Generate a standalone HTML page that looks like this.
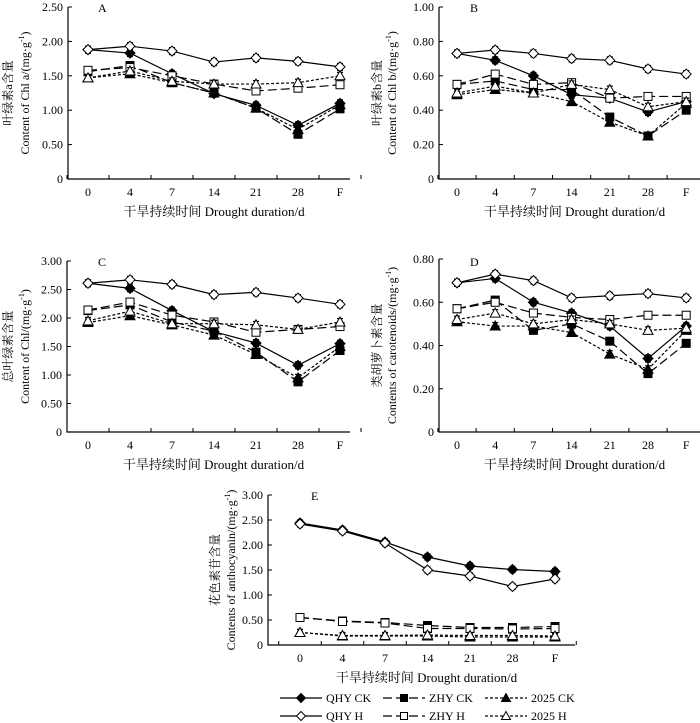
<!DOCTYPE html>
<html><head><meta charset="utf-8">
<style>
html,body{margin:0;padding:0;background:#fff;}
svg{display:block;font-family:"Liberation Serif","Noto Serif CJK SC",serif;}
</style></head>
<body>
<svg id="chart" width="700" height="723" viewBox="0 0 700 723" xmlns="http://www.w3.org/2000/svg"></svg>
<script>
const categories = ["0","4","7","14","21","28","F"];
const seriesNames = ["QHY CK","ZHY CK","2025 CK","QHY H","ZHY H","2025 H"];
// Panel A
const aQhyCk = [1.88,1.83,1.53,1.24,1.07,0.78,1.10];
const aZhyCk = [1.56,1.65,1.40,1.25,1.03,0.65,1.02];
const a2025Ck = [1.47,1.53,1.40,1.25,1.03,0.72,1.08];
const aQhyH = [1.88,1.93,1.86,1.70,1.76,1.71,1.63];
const aZhyH = [1.58,1.62,1.50,1.38,1.28,1.32,1.37];
const a2025H = [1.47,1.57,1.42,1.38,1.38,1.40,1.50];
const aTicks = ["0","0.50","1.00","1.50","2.00","2.50"];
// Panel B
const bQhyCk = [0.73,0.69,0.60,0.49,0.47,0.39,0.45];
const bZhyCk = [0.55,0.57,0.52,0.52,0.36,0.25,0.40];
const b2025Ck = [0.49,0.52,0.50,0.45,0.33,0.25,0.44];
const bQhyH = [0.73,0.75,0.73,0.70,0.69,0.64,0.61];
const bZhyH = [0.55,0.61,0.55,0.56,0.47,0.48,0.48];
const b2025H = [0.50,0.54,0.50,0.55,0.52,0.42,0.45];
const bTicks = ["0","0.20","0.40","0.60","0.80","1.00"];
// Panel C
const cQhyCk = [2.61,2.52,2.13,1.76,1.56,1.17,1.55];
const cZhyCk = [2.13,2.23,1.93,1.77,1.40,0.88,1.43];
const c2025Ck = [1.92,2.04,1.88,1.70,1.36,0.95,1.50];
const cQhyH = [2.61,2.67,2.59,2.41,2.45,2.35,2.24];
const cZhyH = [2.14,2.28,2.05,1.93,1.75,1.80,1.85];
const c2025H = [1.95,2.12,1.90,1.90,1.88,1.80,1.93];
const cTicks = ["0","0.50","1.00","1.50","2.00","2.50","3.00"];
// Panel D
const dQhyCk = [0.69,0.71,0.60,0.55,0.49,0.34,0.49];
const dZhyCk = [0.57,0.61,0.47,0.50,0.42,0.27,0.41];
const d2025Ck = [0.51,0.49,0.49,0.46,0.36,0.29,0.47];
const dQhyH = [0.69,0.73,0.70,0.62,0.63,0.64,0.62];
const dZhyH = [0.57,0.60,0.55,0.53,0.52,0.54,0.54];
const d2025H = [0.52,0.55,0.50,0.52,0.50,0.47,0.48];
const dTicks = ["0","0.20","0.40","0.60","0.80"];
// Panel E
const eQhyCk = [2.44,2.30,2.06,1.76,1.58,1.51,1.47];
const eZhyCk = [0.55,0.48,0.45,0.39,0.35,0.35,0.37];
const e2025Ck = [0.25,0.18,0.18,0.18,0.16,0.16,0.16];
const eQhyH = [2.42,2.28,2.04,1.50,1.38,1.17,1.32];
const eZhyH = [0.55,0.47,0.44,0.33,0.33,0.32,0.33];
const e2025H = [0.25,0.19,0.19,0.20,0.19,0.19,0.18];
const eTicks = ["0","0.50","1.00","1.50","2.00","2.50","3.00"];

const NS = "http://www.w3.org/2000/svg";
const svg = document.getElementById("chart");
function mk(tag, attrs, parent){const e=document.createElementNS(NS,tag);for(const k in attrs)e.setAttribute(k,attrs[k]);(parent||svg).appendChild(e);return e;}

const styles = [
 {dash:"", fill:"#000", shape:"diamond"},
 {dash:"9,4", fill:"#000", shape:"square"},
 {dash:"3,2", fill:"#000", shape:"triangle"},
 {dash:"", fill:"#fff", shape:"diamond"},
 {dash:"9,4", fill:"#fff", shape:"square"},
 {dash:"3,2", fill:"#fff", shape:"triangle"}
];

function marker(g, shape, x, y, fill, s){
  let el;
  if(shape==="diamond") el=mk("polygon",{points:`${x},${y-s} ${x+s},${y} ${x},${y+s} ${x-s},${y}`,fill:fill,stroke:"#000","stroke-width":1},g);
  else if(shape==="square") el=mk("rect",{x:x-s+1,y:y-s+1,width:2*s-2,height:2*s-2,fill:fill,stroke:"#000","stroke-width":1},g);
  else el=mk("polygon",{points:`${x},${y-s} ${x+s},${y+s-1} ${x-s},${y+s-1}`,fill:fill,stroke:"#000","stroke-width":1},g);
  return el;
}

function panel(p){
  const g = mk("g",{});
  
  
  const yMax = parseFloat(p.ticks[p.ticks.length-1]);
  const yScale = v => p.y0 - v/yMax*(p.y0-p.yTop);
  const xScale = i => p.x0c + i*p.dx;
  // axes
  const ax = mk("path",{d:`M${p.ax},${p.yTop} V${p.y0} H${p.axEnd}`,fill:"none",stroke:"#000","stroke-width":1.2},g);
  
  
  p.ticks.forEach((t,i)=>{
    const v=parseFloat(t), y=yScale(v);
    mk("line",{x1:p.ax,x2:p.ax+4,y1:y,y2:y,stroke:"#000"},g);
    const tx=mk("text",{x:p.ax-5,y:y+4,"text-anchor":"end","font-size":12},g);
    tx.textContent=t;
    
    
  });
  categories.forEach((c,i)=>{
    const x=xScale(i);
    mk("line",{x1:x-p.dx/2,x2:x-p.dx/2,y1:p.y0,y2:p.y0-4,stroke:"#000"},g);
    const tx=mk("text",{x:x,y:p.y0+17,"text-anchor":"middle","font-size":12},g);
    tx.textContent=c;
    
    
  });
  mk("line",{x1:xScale(6)+p.dx/2,x2:xScale(6)+p.dx/2,y1:p.y0,y2:p.y0-4,stroke:"#000"},g);
  const xt=mk("text",{x:(p.ax+p.axEnd)/2+5,y:p.y0+37,"text-anchor":"middle","font-size":13},g);
  xt.textContent="干旱持续时间  Drought duration/d";
  
  
  const cy=(p.yTop+p.y0)/2;
  const yt1=mk("text",{x:0,y:0,"text-anchor":"middle","font-size":12,transform:`translate(${p.ylx1},${cy}) rotate(-90)`},g);
  yt1.textContent=p.yl1;
  
  
  const yt2=mk("text",{x:0,y:0,"text-anchor":"middle","font-size":12,transform:`translate(${p.ylx2},${cy}) rotate(-90)`},g);
  yt2.innerHTML=p.yl2+"/(mg·g<tspan font-size='8' dy='-5'>-1</tspan><tspan dy='5'>)</tspan>";
  
  
  const lt=mk("text",{x:p.lx,y:p.ly,"font-size":12},g);
  lt.textContent=p.letter;
  
  
  const err = yMax*0.02;
  p.series.forEach((vals,si)=>{
    const st=styles[si];
    const sg=mk("g",{},g);
    
    
    const d=vals.map((v,i)=>(i?"L":"M")+xScale(i)+","+yScale(v)).join(" ");
    const pl=mk("path",{d:d,fill:"none",stroke:"#000","stroke-width":1.2,"stroke-dasharray":st.dash},sg);
    
    
    vals.forEach((v,i)=>{
      const x=xScale(i), y1=yScale(v+err), y2=yScale(v-err);
      mk("path",{d:`M${x},${y1} V${y2} M${x-3},${y1} H${x+3} M${x-3},${y2} H${x+3}`,stroke:"#000","stroke-width":1.2,fill:"none"},sg);
      const m=marker(sg,st.shape,x,yScale(v),st.fill,5);
      
      
    });
  });
}

panel({name:"panel-a-chl-a",ticks:aTicks,ax:68,axEnd:350,yTop:7,y0:179,x0c:88,dx:42,ylx1:12,ylx2:29,yl1:"叶绿素a含量",yl2:"Content of Chl a",letter:"A",lx:98,ly:12,
  series:[aQhyCk,aZhyCk,a2025Ck,aQhyH,aZhyH,a2025H]});
panel({name:"panel-b-chl-b",ticks:bTicks,ax:439,axEnd:700,yTop:7,y0:179,x0c:457,dx:38.2,ylx1:381,ylx2:396,yl1:"叶绿素b含量",yl2:"Content of Chl b",letter:"B",lx:470,ly:12,
  series:[bQhyCk,bZhyCk,b2025Ck,bQhyH,bZhyH,b2025H]});
panel({name:"panel-c-total-chl",ticks:cTicks,ax:67,axEnd:350,yTop:261,y0:432,x0c:88,dx:42,ylx1:12,ylx2:29,yl1:"总叶绿素含量",yl2:"Content of Chl",letter:"C",lx:98,ly:266,
  series:[cQhyCk,cZhyCk,c2025Ck,cQhyH,cZhyH,c2025H]});
panel({name:"panel-d-carotenoids",ticks:dTicks,ax:439,axEnd:700,yTop:259,y0:432,x0c:457,dx:38.2,ylx1:381,ylx2:396,yl1:"类胡萝卜素含量",yl2:"Contents of carotenoids",letter:"D",lx:470,ly:266,
  series:[dQhyCk,dZhyCk,d2025Ck,dQhyH,dZhyH,d2025H]});
panel({name:"panel-e-anthocyanin",ticks:eTicks,ax:268,axEnd:575,yTop:495,y0:645,x0c:300,dx:42.5,ylx1:219,ylx2:235,yl1:"花色素苷含量",yl2:"Contents of anthocyanin",letter:"E",lx:311,ly:500,
  series:[eQhyCk,eZhyCk,e2025Ck,eQhyH,eZhyH,e2025H]});

// legend
const legX=[280,383,485], legY=[698,716];
seriesNames.forEach((n,i)=>{
  const col=i%3,row=Math.floor(i/3),st=styles[i];
  const lg=mk("g",{});
  
  
  const x=legX[col],y=legY[row];
  mk("line",{x1:x,x2:x+42,y1:y,y2:y,stroke:"#000","stroke-width":1.2,"stroke-dasharray":st.dash},lg);
  marker(lg,st.shape,x+21,y,st.fill,4.5);
  const t=mk("text",{x:x+46,y:y+4,"font-size":12},lg);
  t.textContent=n;
});
</script>
</body></html>
